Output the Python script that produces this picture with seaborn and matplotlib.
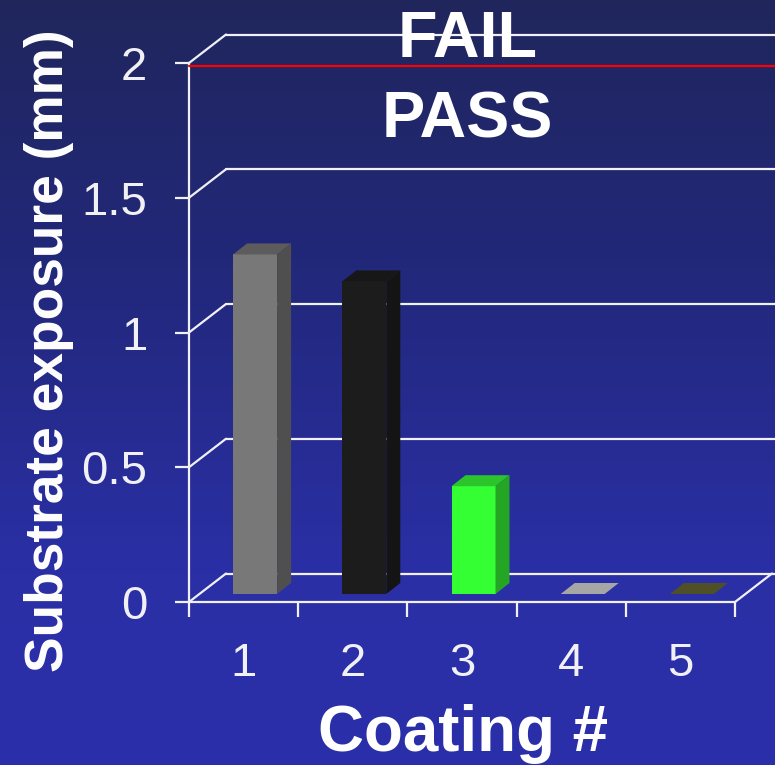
import numpy as np
import pandas as pd
import matplotlib
matplotlib.use("Agg")
import matplotlib.pyplot as plt
from matplotlib.colors import LinearSegmentedColormap
from matplotlib.patches import Polygon
import seaborn as sns

# Measured substrate exposure per coating
coatings = ["1", "2", "3", "4", "5"]
exposure_mm = [1.26, 1.16, 0.40, 0.0, 0.0]
front_colors = ["#787878", "#1c1c1c", "#33ff33", "#a6a6a6", "#4f4f28"]
side_colors = ["#4f4f4f", "#141414", "#24a624", "#a6a6a6", "#4f4f28"]
top_colors = ["#5c5c5c", "#171717", "#2bc42b", "#a6a6a6", "#4f4f28"]
y_ticks = [0, 0.5, 1, 1.5, 2]
y_tick_labels = ["0", "0.5", "1", "1.5", "2"]
pass_fail_limit = 1.99
backdrop_stops = [(0.0, "#20265c"), (0.35, "#22287a"), (0.75, "#2a2fa6"), (1.0, "#2b30aa")]

WHITE = "#f0f0f5"
LINE_PT = 1.6

sns.set_theme(style="ticks")
plt.rcParams["font.family"] = ["Liberation Sans", "DejaVu Sans"]

W, H = 775, 765
fig = plt.figure(figsize=(W / 100, H / 100), dpi=100)

# Vertical gradient backdrop
bg = fig.add_axes([0, 0, 1, 1], zorder=0)
bg.imshow(np.linspace(0, 1, 256)[:, None], aspect="auto",
          cmap=LinearSegmentedColormap.from_list("backdrop", backdrop_stops))
bg.axis("off")

ax = fig.add_axes([189 / W, (H - 602) / H, 546 / W, 539 / H], zorder=1)
ax.patch.set_alpha(0)

df = pd.DataFrame({"coating": coatings, "exposure": exposure_mm})
sns.barplot(data=df, x="coating", y="exposure", hue="coating",
            palette=front_colors, width=44 / 109.2, legend=False,
            saturation=1, ax=ax, zorder=4)

ax.set_xlim(-0.5, 4.5)
ax.set_ylim(0, 2)
px_x, px_y = 1 / 109.2, 1 / 269.5

# Receding depth of the chart box
box_dx, box_dy = 37 * px_x, 28.5 * px_y
right_edge = 4.5 + 40 * px_x
for v in y_ticks:
    ax.plot([-0.5, -0.5 + box_dx], [v, v + box_dy], color=WHITE, lw=LINE_PT,
            clip_on=False, zorder=2)
    ax.plot([-0.5 + box_dx, right_edge], [v + box_dy, v + box_dy], color=WHITE,
            lw=LINE_PT, clip_on=False, zorder=2)
ax.plot([4.5, 4.5 + box_dx], [0, box_dy], color=WHITE, lw=LINE_PT,
        clip_on=False, zorder=2)

# Shift each bar onto the floor and add its side and top faces
shift_x, base_y = 11.5 * px_x, 8 * px_y
bar_dx, bar_dy = 14 * px_x, 11 * px_y
bars = [c[0] for c in ax.containers]
for bar, value, side, top in zip(bars, exposure_mm, side_colors, top_colors):
    x0 = bar.get_x() + shift_x
    w = bar.get_width()
    bar.set_x(x0)
    bar.set_y(base_y)
    bar.set_linewidth(0)
    x1 = x0 + w
    y1 = base_y + value
    if value > 0:
        ax.add_patch(Polygon([(x1, base_y), (x1 + bar_dx, base_y + bar_dy),
                              (x1 + bar_dx, y1 + bar_dy), (x1, y1)],
                             closed=True, fc=side, ec="none", zorder=4))
    ax.add_patch(Polygon([(x0, y1), (x1, y1), (x1 + bar_dx, y1 + bar_dy),
                          (x0 + bar_dx, y1 + bar_dy)],
                         closed=True, fc=top, ec="none", zorder=4))

# Pass/fail limit
ax.plot([-0.5, right_edge], [pass_fail_limit] * 2, color="#ff0000", lw=1.6,
        clip_on=False, zorder=5)
ax.text(2.05, pass_fail_limit + 9 * px_y, "FAIL", color="white", fontsize=46.5,
        fontweight="bold", ha="center", va="baseline", zorder=6)
ax.text(2.05, pass_fail_limit - 72 * px_y, "PASS", color="white", fontsize=46.5,
        fontweight="bold", ha="center", va="baseline", zorder=6)

# Axes: ticks sit on category boundaries, labels at category centres
sns.despine(ax=ax, top=True, right=True)
for name in ("left", "bottom"):
    ax.spines[name].set_color(WHITE)
    ax.spines[name].set_linewidth(LINE_PT)
ax.set_yticks(y_ticks, y_tick_labels)
ax.set_xticks(range(len(coatings)), coatings)
ax.set_xticks(np.arange(-0.5, 5), minor=True)
ax.tick_params(axis="y", which="major", color=WHITE, labelsize=34,
               length=10, width=LINE_PT, pad=20, labelcolor=WHITE)
ax.tick_params(axis="x", which="major", length=0, labelsize=34, pad=29,
               labelcolor=WHITE)
ax.tick_params(axis="x", which="minor", length=11, width=LINE_PT, color=WHITE)

ax.set_xlabel("Coating #", color="white", fontsize=45.8, fontweight="bold")
ax.xaxis.set_label_coords((463 - 189) / 546, (602 - 751) / 539)
ax.xaxis.label.set_va("baseline")
ax.set_ylabel("Substrate exposure (mm)", color="white", fontsize=38.3,
              fontweight="bold")
ax.yaxis.set_label_coords((49.5 - 189) / 546, (602 - 351) / 539)
ax.yaxis.label.set_va("center")

fig.savefig("out.png", dpi=100)
